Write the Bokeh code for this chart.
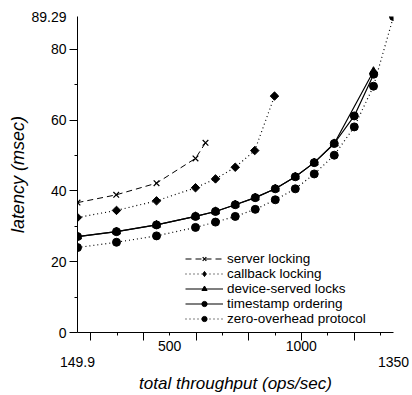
import math
from bokeh.plotting import figure
from bokeh.models import Range1d, FixedTicker, Legend, LegendItem, LinearAxis, AllLabels
from bokeh.embed import file_html
from bokeh.resources import INLINE

# ---- data ----
server_x = [149.9, 297, 450, 598, 636]
server_y = [36.7, 38.9, 42.2, 49.2, 53.6]

callback_x = [149.9, 298, 450, 598, 674, 749, 823, 898]
callback_y = [32.5, 34.5, 37.2, 40.9, 43.4, 46.7, 51.4, 66.8]

device_x = [149.9, 298, 450, 598, 674, 749, 825, 901, 977, 1049, 1125, 1274]
device_y = [27.1, 28.5, 30.4, 32.8, 34.2, 36.1, 38.1, 40.6, 44.0, 48.0, 53.4, 73.8]

ts_x = [149.9, 298, 450, 598, 674, 749, 825, 901, 977, 1049, 1125, 1201, 1275]
ts_y = [27.1, 28.5, 30.4, 32.8, 34.2, 36.1, 38.1, 40.6, 44.0, 48.0, 53.4, 61.2, 73.0]

zero_x = [149.9, 298, 450, 598, 674, 749, 825, 901, 977, 1049, 1125, 1201, 1274, 1350]
zero_y = [24.0, 25.5, 27.3, 29.7, 31.2, 32.8, 34.8, 37.5, 40.6, 44.8, 50.1, 58.1, 69.6, 89.29]

x_major = [200, 400, 600, 800, 1000, 1200]
x_minor = [300, 500, 700, 900, 1100, 1300]
x_labels = [500, 1000]
x_end_labels = [149.9, 1350]
y_major = [0, 20, 40, 60, 80]
y_minor = [10, 30, 50, 70]
x_min, x_max = 149.9, 1350
y_min, y_max = 0, 89.29

FONT = "Liberation Sans"

p = figure(width=412, height=395, output_backend="svg", toolbar_location=None,
           x_range=Range1d(x_min, x_max), y_range=Range1d(y_min, y_max),
           min_border_left=77, min_border_right=19, min_border_top=16, min_border_bottom=62)
p.outline_line_color = None
p.grid.visible = False
p.background_fill_color = "white"


def ticks_only(ax, major, minor):
    ax.ticker = FixedTicker(ticks=major, minor_ticks=minor)
    ax.major_label_overrides = {t: "" for t in major}
    ax.major_label_text_font_size = "0px"
    ax.major_label_standoff = 0
    ax.major_tick_out = 8
    ax.major_tick_in = 0
    ax.minor_tick_out = 3
    ax.minor_tick_in = 0
    ax.axis_line_color = "black"
    ax.major_tick_line_color = "black"
    ax.minor_tick_line_color = "black"


def labels_only(ax, ticks, standoff):
    ax.ticker = FixedTicker(ticks=ticks, minor_ticks=[])
    ax.major_label_policy = AllLabels()
    ax.major_label_standoff = standoff
    ax.major_tick_out = 0
    ax.major_tick_in = 0
    ax.minor_tick_out = 0
    ax.minor_tick_in = 0
    ax.axis_line_color = None
    ax.major_tick_line_color = None
    ax.minor_tick_line_color = None
    ax.major_label_text_font = FONT
    ax.major_label_text_font_size = "14px"
    ax.major_label_text_color = "black"


# x axes: ticks, inner labels, end labels + title
ticks_only(p.xaxis[0], x_major, x_minor)
xa2 = LinearAxis()
labels_only(xa2, x_labels, 0)
p.add_layout(xa2, "below")
xa3 = LinearAxis()
labels_only(xa3, x_end_labels, 3)
xa3.major_label_overrides = {t: ("%g" % t) for t in x_end_labels}
xa3.axis_label = "total throughput (ops/sec)"
xa3.axis_label_text_font = FONT
xa3.axis_label_text_font_style = "italic"
xa3.axis_label_text_font_size = "17px"
xa3.axis_label_text_color = "black"
xa3.axis_label_standoff = 4
p.add_layout(xa3, "below")

# y axes: ticks, labels + title
ticks_only(p.yaxis[0], y_major, y_minor)
ya2 = LinearAxis()
labels_only(ya2, y_major + [y_max], 3)
ya2.major_label_overrides = {y_max: "%g" % y_max}
ya2.axis_label = "latency (msec)"
ya2.axis_label_text_font = FONT
ya2.axis_label_text_font_style = "italic"
ya2.axis_label_text_font_size = "18px"
ya2.axis_label_text_color = "black"
ya2.axis_label_standoff = 0
p.add_layout(ya2, "left")

# series
l1 = p.line(server_x, server_y, line_color="black", line_width=1, line_dash="6 4")
s1 = p.scatter(server_x, server_y, marker="x", size=8, line_color="black", line_width=1.2)

l2 = p.line(callback_x, callback_y, line_color="black", line_width=1.2, line_dash="1 3")
s2 = p.scatter(callback_x, callback_y, marker="square", size=6, angle=math.pi / 4,
               fill_color="black", line_color="black")
s2_key = p.scatter(callback_x, callback_y, marker="diamond", size=8,
                   fill_color="black", line_color="black", visible=False)

l3 = p.line(device_x, device_y, line_color="black", line_width=1.2)
s3 = p.scatter(device_x, device_y, marker="triangle", size=8, fill_color="black", line_color="black")

l4 = p.line(ts_x, ts_y, line_color="black", line_width=1.2)
s4 = p.scatter(ts_x, ts_y, marker="circle", size=8, fill_color="black", line_color="black")

l5 = p.line(zero_x, zero_y, line_color="black", line_width=1.2, line_dash="1 3")
s5 = p.scatter(zero_x, zero_y, marker="circle", size=8, fill_color="black", line_color="black")

for r in [l1, s1, l2, s2, l3, s3, l4, s4, l5, s5]:
    if "clip" in r.properties():
        r.clip = False

legend = Legend(items=[
    LegendItem(label="server locking", renderers=[l1, s1]),
    LegendItem(label="callback locking", renderers=[l2, s2_key]),
    LegendItem(label="device-served locks", renderers=[l3, s3]),
    LegendItem(label="timestamp ordering", renderers=[l4, s4]),
    LegendItem(label="zero-overhead protocol", renderers=[l5, s5]),
], location=(108, 6))
legend.label_text_font = FONT
legend.label_text_font_size = "13.5px"
legend.label_text_color = "black"
legend.label_height = 15
legend.glyph_height = 13
legend.glyph_width = 38
legend.label_standoff = 4
legend.spacing = 0
legend.padding = 0
legend.margin = 0
legend.border_line_alpha = 0
legend.background_fill_alpha = 0
p.add_layout(legend)

open("out.html", "w").write(file_html(p, INLINE))
